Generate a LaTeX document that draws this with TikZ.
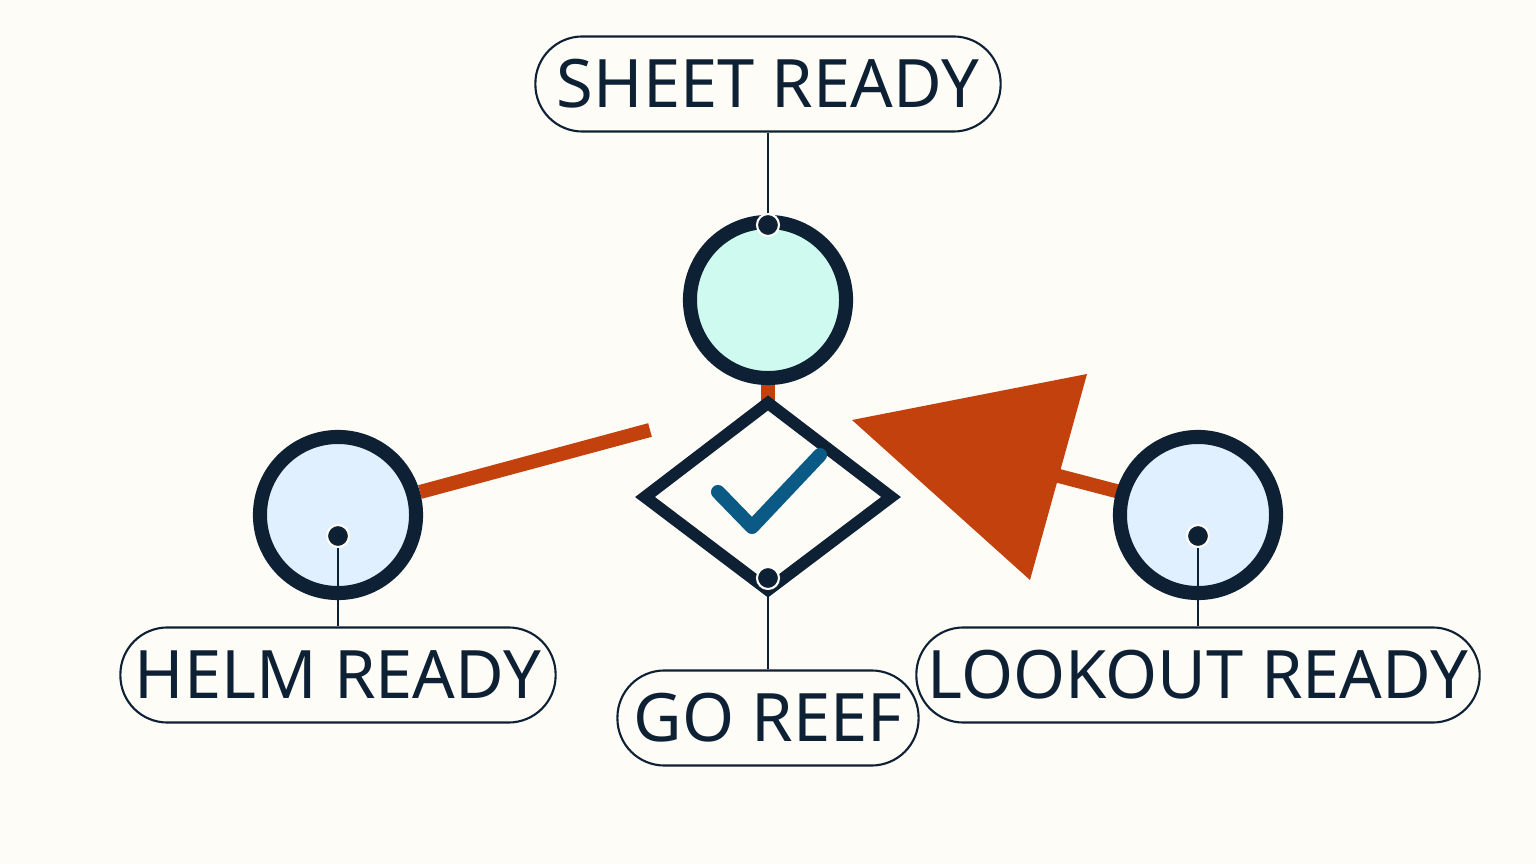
\documentclass[tikz,border=0pt]{standalone}
\usepackage{fontspec}
\setmainfont{Noto Sans}
\usepackage{tikz}
\usetikzlibrary{calc}
\definecolor{ink}{HTML}{0E2033}
\definecolor{paper}{HTML}{FDFCF7}
\definecolor{rust}{HTML}{C2410C}
\definecolor{mint}{HTML}{CFFAF0}
\definecolor{sky}{HTML}{E0F0FE}
\definecolor{tick}{HTML}{0A5A85}
\tikzset{
  station/.style={circle, draw=ink, line width=4pt, minimum size=156\pgflinewidth/4*0+4.4cm/2.82, inner sep=0pt},
  tag/.style={draw=ink, line width=0.6pt, fill=paper, rounded corners=0.47cm, minimum height=0.95cm, inner sep=0pt, font=\fontsize{19}{22}\selectfont\bfseries, text=ink},
  pin/.style={circle, fill=ink, draw=paper, line width=0.6pt, minimum size=0.22cm, inner sep=0pt},
  lead/.style={ink, line width=0.6pt},
  feed/.style={rust, line width=4pt}
}
\begin{document}
\begin{tikzpicture}[x=0.01cm, y=-0.01cm]
    \fill[paper] (0,0) rectangle (1536,864);
    \useasboundingbox (0,0) rectangle (1536,864);
    % feeds
    \draw[feed] (768,380) -- (768,405);
    \coordinate (helmend) at (650,430);
    \draw[feed] (420,492) -- (helmend);
    \draw[feed] (1120,492) -- (1055,475);
    \fill[rust] (852,420) -- (1087,374) -- (1030,580) -- cycle;
    % stations
    \node[station, fill=mint, minimum size=1.56cm] (sheet) at (768,300) {};
    \node[station, fill=sky, minimum size=1.56cm] (helm) at (338,515) {};
    \node[station, fill=sky, minimum size=1.56cm] (lookout) at (1198,515) {};
    \draw[ink, line width=3.4pt, fill=paper] (768,403) -- (891,497) -- (768,590) -- (645,497) -- cycle;
    \draw[tick, line width=4pt, line cap=round, line join=round] (718,492) -- (752,527) -- (820,455);
    % tags
    \node[tag, minimum width=4.65cm] (tsheet) at (768,84) {SHEET READY};
    \node[tag, minimum width=4.35cm] (thelm) at (338,675) {HELM READY};
    \node[tag, minimum width=3.01cm] (tgo) at (768,718) {GO REEF};
    \node[tag, minimum width=5.63cm] (tlook) at (1198,675) {LOOKOUT READY};
    % pins
    \node[pin] (psheet) at (768,225) {};
    \node[pin] (phelm) at (338,536) {};
    \node[pin] (pgo) at (768,578) {};
    \node[pin] (plook) at (1198,536) {};
    \draw[lead] (tsheet) -- (psheet);
    \draw[lead] (thelm) -- (phelm);
    \draw[lead] (tgo) -- (pgo);
    \draw[lead] (tlook) -- (plook);
\end{tikzpicture}
\end{document}
